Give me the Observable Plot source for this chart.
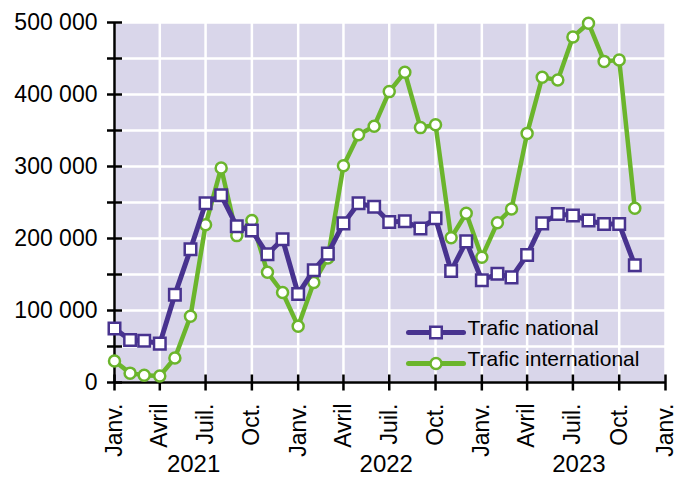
<!DOCTYPE html>
<html><head><meta charset="utf-8">
<script src="https://cdn.jsdelivr.net/npm/d3@7"></script>
<script src="https://cdn.jsdelivr.net/npm/@observablehq/plot@0.6"></script>
<style>body{margin:0;background:#fff;}</style>
</head><body><div id="chart"></div>
<script>
// Data
const months = d3.utcMonth.range(new Date(Date.UTC(2021,0,1)), new Date(Date.UTC(2023,11,1)));
const national = [
  75000, 59000, 58000, 54000, 122000, 185000, 249000, 260000, 217000, 211000, 178000, 199000,
  123000, 156000, 179000, 221000, 249000, 244000, 223000, 224000, 214000, 228000, 155000, 196000,
  142000, 151000, 146000, 177000, 221000, 234000, 232000, 225000, 220000, 220000, 163000
];
const international = [
  30000, 13000, 10000, 9000, 34000, 92000, 219000, 298000, 204000, 225000, 153000, 125000,
  78000, 139000, 173000, 301000, 344000, 356000, 404000, 431000, 354000, 358000, 201000, 235000,
  174000, 222000, 241000, 346000, 424000, 420000, 480000, 499000, 446000, 448000, 242000
];
const seriesNames = ["Trafic national", "Trafic international"];
const monthTickLabels = ["Janv.", "Avril", "Juil.", "Oct."];
const yearLabels = ["2021", "2022", "2023"];
const yLabelTicks = [0, 100000, 200000, 300000, 400000, 500000];
const yTicks = d3.range(0, 500001, 50000);

const x0 = new Date(Date.UTC(2021,0,1));
const x1 = new Date(Date.UTC(2024,0,1));
const xTicks = d3.utcMonth.every(3).range(x0, new Date(Date.UTC(2024,1,1)));

const BG = "#d9d6ea";
const PURPLE = "#48338f";
const GREEN = "#6bb52c";

const natRows = months.map((m, i) => ({date: m, value: national[i], series: seriesNames[0]}));
const intRows = months.map((m, i) => ({date: m, value: international[i], series: seriesNames[1]}));

const hTick = {draw(ctx){ ctx.moveTo(-7.5,0); ctx.lineTo(7.5,0); }};
const vTick = {draw(ctx){ ctx.moveTo(0,-8); ctx.lineTo(0,8); }};
const legLine = {draw(ctx){ ctx.moveTo(-27.5,0); ctx.lineTo(27.5,0); }};

const fmt = d => d3.format(",")(d).replace(/,/g, " ");

const legendMarks = [];
[
  {name: seriesNames[1], color: GREEN, symbol: "circle", r: 5.5, i: 1},
  {name: seriesNames[0], color: PURPLE, symbol: "square", r: 6.5, i: 0}
].forEach(s => {
  const dy = -50 + 31 * s.i;
  legendMarks.push(Plot.dot([0], {frameAnchor: "bottom-left", dx: 321.5, dy, symbol: legLine, stroke: s.color, strokeWidth: 5, fill: "none", strokeLinecap: "round"}));
  legendMarks.push(Plot.dot([0], {frameAnchor: "bottom-left", dx: 321.5, dy, symbol: s.symbol, r: s.r, stroke: s.color, strokeWidth: 2.5, fill: "white"}));
  legendMarks.push(Plot.text([s.name], {frameAnchor: "bottom-left", dx: 353, dy: dy + 2, text: d => d, textAnchor: "start", fontSize: 21, fill: "black"}));
});

const yearShift = [-12, -3, 6];
const yearMarks = yearLabels.map((y, i) =>
  Plot.text([y], {x: d => new Date(Date.UTC(+d, 6, 1)), frameAnchor: "bottom", dy: 89, dx: yearShift[i], text: d => d, fontSize: 24, fill: "black"})
);

const chart = Plot.plot({
  width: 674, height: 484,
  marginLeft: 114, marginRight: 9, marginTop: 22, marginBottom: 102,
  style: {fontFamily: "'Liberation Sans', Arial, sans-serif", background: "white", color: "black"},
  x: {type: "utc", domain: [x0, x1]},
  y: {domain: [0, 500000]},
  marks: [
    Plot.frame({fill: BG, stroke: "none"}),
    Plot.gridX(xTicks, {stroke: "white", strokeOpacity: 1, strokeWidth: 2.5}),
    Plot.gridY(yTicks, {stroke: "white", strokeOpacity: 1, strokeWidth: 2.5}),
    Plot.ruleX([x0], {stroke: "black", strokeWidth: 2.5}),
    Plot.ruleY([0], {stroke: "black", strokeWidth: 2.5}),
    Plot.dot(yTicks, {x: () => x0, y: d => d, symbol: hTick, stroke: "black", strokeWidth: 2.5, fill: "none"}),
    Plot.dot(xTicks, {x: d => d, y: () => 0, symbol: vTick, stroke: "black", strokeWidth: 2.5, fill: "none"}),
    Plot.axisY({ticks: yLabelTicks, tickSize: 0, tickPadding: 17, tickFormat: fmt, fontSize: 23, label: null}),
    Plot.axisX({ticks: xTicks, tickSize: 0, tickPadding: 21, tickRotate: -90, textAnchor: "end", fontSize: 23,
      tickFormat: d => monthTickLabels[Math.floor(d.getUTCMonth() / 3)], label: null}),
    ...yearMarks,
    Plot.line(intRows, {x: "date", y: "value", stroke: GREEN, strokeWidth: 4.5}),
    Plot.dot(intRows, {x: "date", y: "value", symbol: "circle", r: 5.5, stroke: GREEN, strokeWidth: 2.5, fill: "white"}),
    Plot.line(natRows, {x: "date", y: "value", stroke: PURPLE, strokeWidth: 5}),
    Plot.dot(natRows, {x: "date", y: "value", symbol: "square", r: 6.5, stroke: PURPLE, strokeWidth: 2.5, fill: "white"}),
    ...legendMarks
  ]
});
document.getElementById("chart").appendChild(chart);
</script>
</body></html>
